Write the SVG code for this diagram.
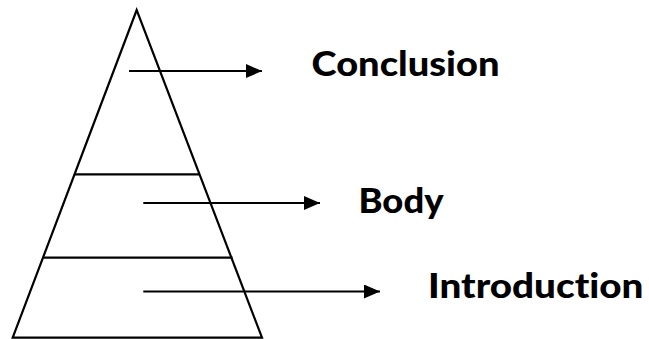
<svg xmlns="http://www.w3.org/2000/svg" width="649" height="339" viewBox="0 0 649 339">
<style>
.sh{fill:none;stroke:#000;stroke-width:2.2}
.ar{stroke:#000;stroke-width:2.2;fill:none}
.lb{font-family:Lato,"Open Sans","Liberation Sans",sans-serif;font-weight:900;font-size:34px;fill:#000;font-variant-ligatures:none}
</style>
<defs>
<marker id="ah" markerUnits="userSpaceOnUse" markerWidth="17" markerHeight="15" refX="16" refY="7" orient="auto">
<path d="M0,0 L16,7 L0,14 z" fill="#000"/>
</marker>
</defs>
<rect width="649" height="339" fill="#fff"/>
<g id="pyramid">
<path class="sh" d="M136.7,10 L12.7,337.7 L262,337.7 Z"/>
<line class="sh" x1="74" y1="174.3" x2="199.5" y2="174.3"/>
<line class="sh" x1="43" y1="257.7" x2="232.5" y2="257.7"/>
</g>
<g id="connectors">
<line class="ar" x1="129" y1="71" x2="262" y2="71" marker-end="url(#ah)"/>
<line class="ar" x1="143.3" y1="203" x2="320" y2="203" marker-end="url(#ah)"/>
<line class="ar" x1="143.3" y1="291.5" x2="380" y2="291.5" marker-end="url(#ah)"/>
</g>
<g id="conclusion"><text class="lb" x="311.5" y="75.5" textLength="188" lengthAdjust="spacingAndGlyphs">Conclusion</text></g>
<g id="body"><text class="lb" x="358.5" y="212.5" textLength="85" lengthAdjust="spacingAndGlyphs">Body</text></g>
<g id="introduction"><text class="lb" x="428" y="298" textLength="215.5" lengthAdjust="spacingAndGlyphs">Introduction</text></g>
</svg>
